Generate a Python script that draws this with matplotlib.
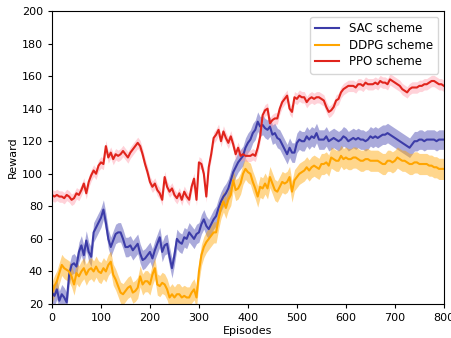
import matplotlib
matplotlib.use("Agg")
import matplotlib.pyplot as plt
import numpy as np

# mean reward, one value every 5 episodes (0..800)
ppo = [87, 86, 87, 86, 86, 85, 87, 86, 84, 85,
       88, 87, 90, 94, 88, 95, 99, 102, 100, 105,
       107, 106, 117, 110, 113, 109, 112, 111, 112, 114,
       112, 110, 113, 115, 117, 119, 117, 112, 106, 101,
       95, 92, 94, 90, 88, 84, 98, 92, 89, 91,
       87, 85, 88, 84, 89, 86, 84, 92, 97, 84,
       107, 106, 100, 86, 104, 112, 122, 124, 127, 120,
       126, 122, 119, 123, 118, 112, 116, 111, 112, 111,
       111, 111, 112, 111, 116, 123, 136, 139, 140, 131,
       133, 134, 134, 140, 144, 146, 148, 140, 138, 147,
       146, 148, 147, 147, 144, 146, 147, 146, 147, 147,
       146, 145, 141, 138, 139, 141, 145, 146, 150, 152,
       153, 154, 154, 154, 153, 155, 155, 154, 156, 155,
       155, 155, 156, 155, 157, 156, 156, 155, 158, 157,
       156, 155, 154, 152, 151, 150, 152, 153, 153, 153,
       154, 154, 155, 155, 156, 157, 157, 156, 155, 155,
       154]

sac = [27, 25, 29, 22, 26, 24, 21, 38, 44, 45,
       43, 52, 56, 50, 59, 52, 49, 64, 67, 70,
       73, 78, 70, 60, 55, 59, 63, 64, 64, 60,
       55, 55, 56, 53, 55, 57, 51, 47, 48, 50,
       52, 48, 53, 57, 61, 52, 56, 57, 49, 42,
       50, 60, 58, 57, 61, 60, 64, 62, 60, 63,
       64, 69, 72, 68, 66, 69, 72, 74, 79, 83,
       86, 88, 91, 96, 101, 104, 107, 109, 111, 116,
       119, 121, 125, 127, 132, 129, 130, 128, 127, 129,
       124, 125, 122, 121, 118, 115, 112, 116, 113, 113,
       119, 121, 120, 120, 123, 121, 123, 122, 125, 121,
       121, 121, 123, 120, 121, 122, 121, 120, 121, 123,
       122, 120, 121, 122, 121, 122, 121, 121, 120, 121,
       123, 122, 123, 122, 123, 124, 124, 125, 124, 123,
       122, 121, 120, 119, 118, 117, 116, 118, 120, 120,
       121, 121, 120, 121, 121, 121, 121, 120, 121, 121,
       121]

ddpg = [27, 31, 34, 39, 44, 42, 41, 40, 37, 32,
        39, 37, 40, 42, 38, 41, 42, 40, 43, 40,
        39, 42, 40, 44, 46, 38, 35, 31, 27, 26,
        28, 30, 31, 27, 28, 30, 37, 32, 34, 34,
        32, 38, 42, 32, 31, 33, 32, 29, 24, 26,
        24, 26, 26, 24, 25, 24, 24, 27, 29, 24,
        40, 50, 55, 58, 60, 62, 64, 64, 72, 79,
        83, 79, 84, 87, 96, 90, 91, 94, 100, 103,
        101, 100, 95, 91, 86, 92, 91, 94, 91, 98,
        94, 90, 89, 92, 95, 94, 95, 98, 89, 96,
        98, 100, 101, 102, 104, 102, 104, 105, 104, 103,
        106, 106, 107, 105, 110, 109, 108, 108, 111, 109,
        110, 109, 109, 110, 110, 109, 108, 108, 109, 109,
        108, 108, 108, 108, 107, 106, 106, 108, 108, 107,
        108, 110, 109, 108, 108, 107, 106, 106, 107, 107,
        106, 106, 106, 106, 105, 105, 104, 104, 103, 103,
        103]

episodes = np.linspace(0, 800, len(ppo))

# half width of the shaded spread
sac_spread = 6
ddpg_spread = 6.5
ppo_spread = 3.5

fig = plt.figure(figsize=(4.52, 3.38), dpi=100)
ax = fig.add_axes([0.115, 0.1006, 0.867, 0.8669])

sac = np.array(sac)
ddpg = np.array(ddpg)
ppo = np.array(ppo)

ax.fill_between(episodes, sac - sac_spread, sac + sac_spread, color='#4444b0', alpha=0.45, lw=0)
ax.plot(episodes, sac, color='#3c3ca8', lw=1.5, label='SAC scheme')

ax.fill_between(episodes, ddpg - ddpg_spread, ddpg + ddpg_spread, color='#ffa500', alpha=0.45, lw=0)
ax.plot(episodes, ddpg, color='#ffa500', lw=1.5, label='DDPG scheme')

ax.fill_between(episodes, ppo - ppo_spread, ppo + ppo_spread, color='#ff8fa0', alpha=0.4, lw=0)
ax.plot(episodes, ppo, color='#e0241c', lw=1.5, label='PPO scheme')

ax.set_xlim(0, 800)
ax.set_ylim(20, 200)
ax.set_xticks(range(0, 801, 100))
ax.set_yticks(range(20, 201, 20))
ax.tick_params(labelsize=8, length=3)
ax.set_xlabel('Episodes', fontsize=8, labelpad=2)
ax.set_ylabel('Reward', fontsize=8, labelpad=3)

ax.legend(loc='upper right', fontsize=8.5, handlelength=2.0, borderpad=0.45, labelspacing=0.3)

fig.savefig('out.png', dpi=100)
